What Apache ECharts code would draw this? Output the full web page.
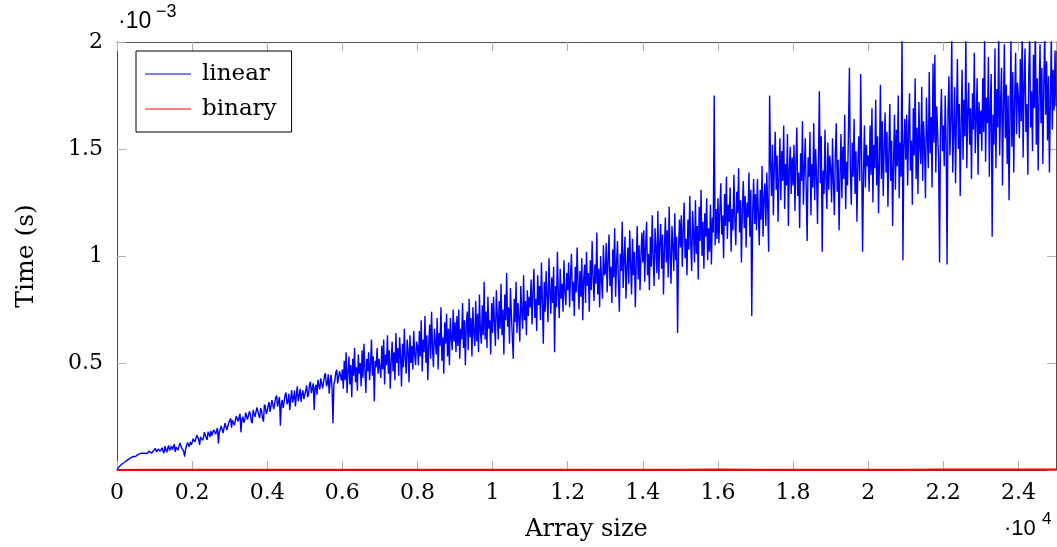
<!DOCTYPE html>
<html>
<head>
<meta charset="utf-8">
<script src="https://cdn.jsdelivr.net/npm/echarts@6/dist/echarts.min.js"></script>
<style>
html,body{margin:0;padding:0;background:#fff;}
#chart{width:1057px;height:547px;}
</style>
</head>
<body>
<div id="chart"></div>
<script>
// Array sizes are sampled every 25 elements (linear) / 1000 elements (binary)
const linearStep = 25;
const binaryStep = 1000;
// Times in units of 1e-3 s, one row per 1000 array elements
const linearTimes = [
  0, 0.008, 0.014, 0.019, 0.023, 0.027, 0.031, 0.033, 0.036, 0.041, 0.043, 0.046, 0.049, 0.052, 0.055, 0.053, 0.058, 0.062, 0.060, 0.066, 0.064, 0.061, 0.071, 0.074, 0.068, 0.072, 0.078, 0.081, 0.074, 0.079, 0.082, 0.086, 0.077, 0.083, 0.088, 0.092, 0.081, 0.079, 0.086, 0.091,
  0.092, 0.101, 0.084, 0.076, 0.098, 0.107, 0.088, 0.097, 0.104, 0.089, 0.079, 0.112, 0.095, 0.083, 0.102, 0.115, 0.091, 0.098, 0.112, 0.094, 0.096, 0.121, 0.085, 0.107, 0.108, 0.093, 0.099, 0.126, 0.118, 0.102, 0.104, 0.087, 0.062, 0.095, 0.112, 0.128, 0.122, 0.109, 0.131, 0.118,
  0.128, 0.146, 0.152, 0.131, 0.138, 0.163, 0.161, 0.142, 0.117, 0.155, 0.158, 0.139, 0.149, 0.176, 0.172, 0.151, 0.141, 0.179, 0.168, 0.154, 0.183, 0.161, 0.155, 0.188, 0.192, 0.167, 0.166, 0.196, 0.124, 0.178, 0.189, 0.206, 0.201, 0.172, 0.176, 0.219, 0.214, 0.187, 0.193, 0.221,
  0.226, 0.241, 0.198, 0.233, 0.241, 0.209, 0.215, 0.252, 0.258, 0.227, 0.224, 0.263, 0.176, 0.238, 0.249, 0.221, 0.232, 0.268, 0.271, 0.236, 0.238, 0.274, 0.262, 0.229, 0.219, 0.281, 0.284, 0.248, 0.251, 0.293, 0.302, 0.257, 0.243, 0.289, 0.278, 0.241, 0.226, 0.306, 0.296, 0.262,
  0.274, 0.302, 0.318, 0.271, 0.262, 0.327, 0.335, 0.284, 0.291, 0.338, 0.348, 0.296, 0.305, 0.342, 0.207, 0.311, 0.327, 0.289, 0.296, 0.351, 0.362, 0.307, 0.318, 0.356, 0.281, 0.332, 0.374, 0.315, 0.336, 0.371, 0.297, 0.348, 0.391, 0.322, 0.344, 0.379, 0.318, 0.354, 0.372, 0.331,
  0.338, 0.372, 0.395, 0.341, 0.352, 0.398, 0.412, 0.359, 0.367, 0.405, 0.281, 0.386, 0.398, 0.352, 0.421, 0.394, 0.376, 0.428, 0.436, 0.381, 0.389, 0.441, 0.452, 0.392, 0.402, 0.447, 0.356, 0.419, 0.445, 0.384, 0.218, 0.402, 0.418, 0.456, 0.468, 0.405, 0.397, 0.462, 0.441, 0.418,
  0.47, 0.38, 0.51, 0.42, 0.55, 0.36, 0.46, 0.53, 0.40, 0.49, 0.34, 0.52, 0.44, 0.57, 0.41, 0.48, 0.37, 0.54, 0.45, 0.50, 0.39, 0.56, 0.43, 0.59, 0.47, 0.36, 0.52, 0.46, 0.55, 0.42, 0.49, 0.61, 0.44, 0.53, 0.32, 0.51, 0.48, 0.57, 0.45, 0.52,
  0.52, 0.43, 0.58, 0.47, 0.61, 0.40, 0.54, 0.49, 0.63, 0.45, 0.56, 0.38, 0.51, 0.60, 0.46, 0.55, 0.42, 0.64, 0.50, 0.57, 0.44, 0.62, 0.53, 0.39, 0.59, 0.48, 0.66, 0.52, 0.45, 0.61, 0.56, 0.41, 0.63, 0.50, 0.58, 0.47, 0.65, 0.54, 0.49, 0.60,
  0.58, 0.49, 0.65, 0.53, 0.70, 0.46, 0.61, 0.55, 0.72, 0.50, 0.63, 0.42, 0.59, 0.68, 0.52, 0.74, 0.57, 0.48, 0.66, 0.60, 0.54, 0.71, 0.47, 0.64, 0.58, 0.76, 0.51, 0.62, 0.45, 0.69, 0.59, 0.73, 0.53, 0.66, 0.49, 0.71, 0.62, 0.56, 0.75, 0.60,
  0.69, 0.55, 0.72, 0.58, 0.75, 0.52, 0.66, 0.61, 0.78, 0.57, 0.70, 0.49, 0.68, 0.74, 0.56, 0.80, 0.62, 0.71, 0.53, 0.76, 0.64, 0.58, 0.79, 0.60, 0.73, 0.55, 0.82, 0.65, 0.59, 0.77, 0.63, 0.88, 0.61, 0.74, 0.57, 0.81, 0.66, 0.70, 0.54, 0.78,
  0.64, 0.81, 0.69, 0.58, 0.84, 0.72, 0.61, 0.79, 0.66, 0.87, 0.63, 0.75, 0.54, 0.82, 0.70, 0.92, 0.67, 0.76, 0.59, 0.85, 0.73, 0.62, 0.52, 0.80, 0.69, 0.88, 0.64, 0.78, 0.71, 0.60, 0.86, 0.74, 0.66, 0.91, 0.70, 0.79, 0.63, 0.84, 0.72, 0.81,
  0.76, 0.89, 0.68, 0.83, 0.94, 0.71, 0.80, 0.65, 0.91, 0.77, 0.86, 0.70, 0.97, 0.79, 0.59, 0.88, 0.74, 0.93, 0.81, 0.69, 0.99, 0.84, 0.73, 0.90, 0.78, 0.95, 0.55, 0.86, 0.76, 1.02, 0.82, 0.71, 0.94, 0.80, 0.87, 0.74, 0.98, 0.83, 0.77, 0.92,
  0.84, 0.97, 0.76, 0.91, 1.01, 0.79, 0.88, 0.72, 0.95, 0.83, 1.04, 0.87, 0.75, 0.93, 0.81, 0.99, 0.70, 0.89, 0.96, 0.78, 1.02, 0.86, 0.92, 0.74, 0.98, 0.84, 1.07, 0.90, 0.79, 0.96, 0.87, 1.11, 0.82, 0.94, 0.76, 1.00, 0.89, 0.80, 1.05, 0.91,
  0.92, 1.06, 0.83, 0.98, 1.10, 0.86, 0.95, 0.78, 1.03, 0.90, 1.13, 0.81, 0.97, 1.07, 0.88, 0.74, 1.01, 0.93, 1.16, 0.85, 0.99, 1.09, 0.80, 0.94, 1.04, 0.87, 1.12, 0.96, 0.82, 1.08, 0.91, 1.02, 0.76, 0.97, 1.14, 0.89, 1.05, 0.84, 1.00, 1.11,
  0.97, 1.12, 0.88, 1.05, 1.16, 0.91, 1.01, 0.84, 1.09, 0.95, 1.19, 0.99, 0.86, 1.13, 1.03, 0.92, 1.21, 0.89, 1.06, 1.15, 0.94, 1.10, 0.82, 1.04, 1.18, 0.97, 1.12, 0.90, 1.23, 1.00, 0.87, 1.14, 1.05, 0.93, 1.20, 0.98, 1.09, 0.64, 1.02, 1.17,
  1.04, 1.19, 0.95, 1.12, 1.25, 0.99, 1.08, 0.91, 1.17, 1.03, 1.28, 1.06, 0.93, 1.21, 1.10, 0.97, 1.26, 1.01, 1.14, 0.89, 1.23, 1.07, 1.31, 1.00, 1.16, 0.94, 1.20, 1.09, 1.27, 0.98, 1.13, 1.02, 1.24, 0.96, 1.18, 1.11, 1.75, 1.05, 1.22, 1.08,
  1.27, 1.06, 1.21, 1.34, 1.10, 1.19, 0.99, 1.29, 1.14, 1.37, 1.08, 1.24, 1.16, 1.32, 1.02, 1.22, 1.12, 1.38, 1.17, 1.05, 1.30, 1.20, 1.41, 1.11, 1.26, 0.97, 1.23, 1.35, 1.13, 1.28, 1.04, 1.25, 1.18, 1.39, 1.09, 1.31, 0.72, 1.21, 1.36, 1.15,
  1.29, 1.12, 1.36, 1.20, 1.05, 1.31, 1.17, 1.42, 1.09, 1.27, 1.34, 1.14, 1.39, 1.22, 1.02, 1.75, 1.44, 1.28, 1.52, 1.19, 1.41, 1.58, 1.31, 1.47, 1.16, 1.38, 1.55, 1.26, 1.49, 1.35, 1.61, 1.22, 1.43, 1.33, 1.57, 1.14, 1.40, 1.51, 1.29, 1.46,
  1.33, 1.52, 1.21, 1.44, 1.60, 1.28, 1.39, 1.13, 1.48, 1.35, 1.63, 1.24, 1.41, 1.55, 1.30, 1.07, 1.46, 1.37, 1.58, 1.19, 1.43, 1.32, 1.62, 1.26, 1.50, 1.38, 1.15, 1.45, 1.77, 1.34, 1.56, 1.02, 1.40, 1.29, 1.59, 1.36, 1.22, 1.53, 1.31, 1.47,
  1.41, 1.25, 1.55, 1.34, 1.19, 1.48, 1.62, 1.30, 1.45, 1.12, 1.38, 1.57, 1.27, 1.51, 1.36, 1.66, 1.22, 1.44, 1.33, 1.59, 1.88, 1.40, 1.24, 1.53, 1.37, 1.64, 1.29, 1.49, 1.16, 1.43, 1.56, 1.35, 1.85, 1.46, 1.02, 1.39, 1.61, 1.32, 1.52, 1.42,
  1.47, 1.30, 1.61, 1.38, 1.69, 1.25, 1.52, 1.41, 1.73, 1.33, 1.56, 1.20, 1.45, 1.80, 1.36, 1.63, 1.28, 1.50, 1.67, 1.39, 1.58, 1.23, 1.48, 1.71, 1.35, 1.54, 1.14, 1.44, 1.66, 1.31, 1.59, 1.42, 1.75, 1.27, 1.53, 1.37, 2.04, 0.98, 1.51, 1.64,
  1.45, 1.66, 1.33, 1.58, 1.76, 1.40, 1.54, 1.24, 1.69, 1.47, 1.83, 1.36, 1.60, 1.29, 1.72, 1.51, 1.43, 1.79, 1.35, 1.63, 1.50, 1.27, 1.74, 1.56, 1.41, 1.86, 1.48, 1.65, 1.32, 1.90, 1.53, 1.94, 1.39, 1.70, 1.57, 1.44, 0.97, 1.62, 1.78, 1.49,
  1.61, 1.42, 1.75, 1.53, 0.96, 1.68, 1.84, 1.47, 1.63, 2.02, 1.39, 1.58, 1.79, 1.34, 1.66, 1.92, 1.50, 1.71, 1.28, 1.62, 1.87, 1.45, 1.73, 1.56, 2.03, 1.41, 1.67, 1.81, 1.52, 1.69, 1.36, 1.76, 1.59, 1.95, 1.48, 1.64, 1.83, 1.38, 1.72, 1.57,
  1.68, 1.49, 1.83, 1.58, 2.04, 1.44, 1.74, 1.62, 1.93, 1.37, 1.70, 1.85, 1.09, 1.66, 1.52, 1.97, 1.41, 1.78, 1.60, 2.05, 1.47, 1.72, 1.88, 1.33, 1.69, 1.99, 1.55, 1.80, 1.43, 1.75, 1.26, 1.64, 2.01, 1.51, 1.86, 1.39, 1.73, 1.95, 1.57, 1.81,
  1.74, 1.55, 1.92, 1.63, 2.06, 1.46, 1.80, 1.97, 1.58, 1.71, 1.38, 1.86, 2.03, 1.60, 1.77, 1.49, 1.94, 1.69, 2.08, 1.52, 1.83, 1.40, 1.75, 1.99, 1.62, 1.88, 1.43, 1.79, 2.05, 1.66, 1.91, 1.54, 1.84, 1.39, 1.73, 2.02, 1.59, 1.87, 1.68, 1.96,
  1.70
];
const binaryTimes = [
  0.0004, 0.0008, 0.0010, 0.0011, 0.0012, 0.0012, 0.0013, 0.0013, 0.0014, 0.0014, 0.0014, 0.0015, 0.0015,
  0.0015, 0.0016, 0.0016, 0.0022, 0.0016, 0.0017, 0.0017, 0.0017, 0.0017, 0.0024, 0.0018, 0.0018, 0.0018
];
const seriesNames = ['linear', 'binary'];
const xTitle = 'Array size';
const yTitle = 'Time (s)';

const linearData = linearTimes.map((v, i) => [i * linearStep, v]);
const binaryData = binaryTimes.map((v, i) => [i * binaryStep, v]);

const FONT = '"DejaVu Serif", serif';
const frameColor = '#4d4d4d';
const tickColor = '#b0b0b0';

const chart = echarts.init(document.getElementById('chart'), null, {renderer: 'canvas'});

const baseX = {
  type: 'value', min: 0, max: 25000, interval: 2000,
  axisLine: {show: true, onZero: false, lineStyle: {color: frameColor, width: 1}},
  axisTick: {show: true, inside: true, length: 9, lineStyle: {color: tickColor, width: 1}},
  splitLine: {show: false}
};
const baseY = {
  type: 'value', min: 0, max: 2, interval: 0.5,
  axisLine: {show: true, onZero: false, lineStyle: {color: frameColor, width: 1}},
  axisTick: {show: true, inside: true, length: 9, lineStyle: {color: tickColor, width: 1}},
  splitLine: {show: false}
};

chart.setOption({
  animation: false,
  backgroundColor: '#fff',
  grid: {left: 117, right: 1, top: 42, bottom: 77, containLabel: false},
  legend: {
    show: true,
    data: seriesNames,
    orient: 'vertical',
    left: 136, top: 51,
    padding: [11, 15, 11, 9],
    itemGap: 11,
    icon: 'rect',
    itemWidth: 46, itemHeight: 1,
    backgroundColor: '#fff',
    borderColor: '#000', borderWidth: 1,
    textStyle: {fontFamily: FONT, fontSize: 23, color: '#000', padding: [0, 0, 0, 6], lineHeight: 24}
  },
  xAxis: [
    Object.assign({}, baseX, {
      position: 'bottom',
      axisLabel: {show: true, showMaxLabel: false, margin: 12, fontFamily: FONT, fontSize: 22, color: '#000',
        formatter: v => String(parseFloat((v / 10000).toFixed(1)))},
      name: xTitle, nameLocation: 'middle', nameGap: 48,
      nameTextStyle: {fontFamily: FONT, fontSize: 24, color: '#000'}
    }),
    Object.assign({}, baseX, {position: 'top', axisLabel: {show: false}})
  ],
  yAxis: [
    Object.assign({}, baseY, {
      position: 'left',
      axisLabel: {show: true, showMinLabel: false, margin: 14, fontFamily: FONT, fontSize: 22, color: '#000'},
      name: yTitle, nameLocation: 'middle', nameGap: 78,
      nameTextStyle: {fontFamily: FONT, fontSize: 25, color: '#000'}
    }),
    Object.assign({}, baseY, {position: 'right', axisLabel: {show: false}})
  ],
  graphic: [
    {type: 'text', left: 118, top: 10, style: {text: '·10', font: '23px "Liberation Sans"', fill: '#000'}},
    {type: 'text', left: 156, top: 3, style: {text: '−3', font: '18px "Liberation Sans"', fill: '#000'}},
    {type: 'text', left: 1004, top: 518, style: {text: '·10', font: '22px "Liberation Sans"', fill: '#000'}},
    {type: 'text', left: 1042, top: 511, style: {text: '4', font: '17px "Liberation Sans"', fill: '#000'}}
  ],
  series: [
    {
      name: seriesNames[0], type: 'line', data: linearData, xAxisIndex: 0, yAxisIndex: 0,
      symbol: 'none', showSymbol: false, clip: true,
      lineStyle: {color: '#0000ff', width: 1.4}, itemStyle: {color: '#0000ff'}, z: 3
    },
    {
      name: seriesNames[1], type: 'line', data: binaryData, xAxisIndex: 0, yAxisIndex: 0,
      symbol: 'none', showSymbol: false, clip: false,
      lineStyle: {color: '#ff0000', width: 2}, itemStyle: {color: '#ff0000'}, z: 4
    }
  ]
});
</script>
</body>
</html>
